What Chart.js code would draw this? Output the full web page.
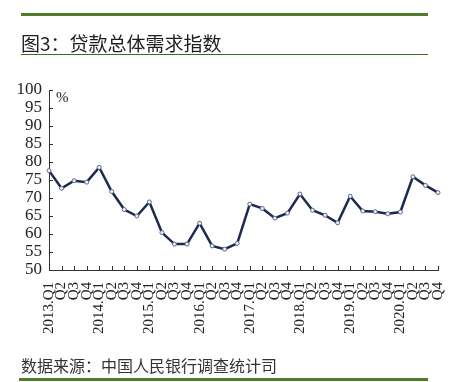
<!DOCTYPE html>
<html>
<head>
<meta charset="utf-8">
<script src="https://cdn.jsdelivr.net/npm/chart.js@4"></script>
<style>
  html, body { margin: 0; padding: 0; background: #fff; }
  #wrap { position: relative; width: 449px; height: 382px; overflow: hidden; }
  #c { position: absolute; left: 0; top: 0; }
  .bar { position: absolute; background: #4e7d2c; }
  .txt { position: absolute; font-family: "Noto Sans CJK SC", sans-serif; white-space: nowrap; }
</style>
</head>
<body>
<div id="wrap">
  <canvas id="c" width="449" height="382"></canvas>
  <div class="bar" style="left:21px; top:13px; width:407px; height:3px;"></div>
  <div class="txt" style="left:21px; top:29px; font-size:19px; line-height:28px; color:#1e1e1e;">图3：贷款总体需求指数</div>
  <div class="bar" style="left:21px; top:54px; width:407px; height:1px; background:#3f6a24;"></div>
  <div class="txt" style="left:21px; top:354px; font-size:16px; line-height:22px; color:#333;">数据来源：中国人民银行调查统计司</div>
  <div class="bar" style="left:19px; top:378px; width:409px; height:3px;"></div>
</div>
<script>
const years = ["2013", "2014", "2015", "2016", "2017", "2018", "2019", "2020"];
const quarters = ["Q1", "Q2", "Q3", "Q4"];
const categories = [];
years.forEach(y => quarters.forEach(q => categories.push(q === "Q1" ? y + ".Q1" : q)));
const loanDemandIndex = [
  77.6, 72.7, 74.8, 74.4,
  78.5, 71.8, 66.8, 65.0,
  68.9, 60.4, 57.2, 57.2,
  63.0, 56.7, 55.8, 57.4,
  68.3, 67.1, 64.4, 65.8,
  71.1, 66.6, 65.2, 63.1,
  70.5, 66.4, 66.2, 65.6,
  66.1, 75.9, 73.5, 71.5
];
const yMin = 50, yMax = 100, yStep = 5;
const unitLabel = "%";

const innerTicks = {
  id: 'innerTicks',
  afterDraw(chart) {
    const ctx = chart.ctx;
    const xs = chart.scales.x, ys = chart.scales.y;
    const area = chart.chartArea;
    ctx.save();
    ctx.strokeStyle = '#333';
    ctx.lineWidth = 1;
    ctx.beginPath();
    for (let i = 0; i < categories.length; i++) {
      const px = Math.round(xs.getPixelForTick(i)) + 0.5;
      ctx.moveTo(px, area.bottom);
      ctx.lineTo(px, area.bottom - 4);
    }
    for (let v = yMin + yStep; v <= yMax; v += yStep) {
      const py = Math.round(ys.getPixelForValue(v)) + 0.5;
      ctx.moveTo(area.left, py);
      ctx.lineTo(area.left + 4, py);
    }
    ctx.stroke();
    ctx.fillStyle = '#222';
    ctx.font = '15px "Liberation Serif", serif';
    ctx.textAlign = 'left';
    ctx.textBaseline = 'middle';
    ctx.fillText(unitLabel, area.left + 7, area.top + 8);
    ctx.restore();
  }
};

new Chart(document.getElementById('c'), {
  type: 'line',
  data: {
    labels: categories,
    datasets: [{
      data: loanDemandIndex,
      borderColor: '#1b2a4e',
      borderWidth: 2.5,
      pointRadius: 2,
      pointBorderWidth: 1,
      pointBorderColor: '#5b6a88',
      pointBackgroundColor: '#eef1f6',
      tension: 0,
      fill: false
    }]
  },
  options: {
    responsive: false,
    animation: false,
    devicePixelRatio: 1,
    layout: { padding: { left: 0, right: 11, top: 90, bottom: 37 } },
    plugins: { legend: { display: false }, tooltip: { enabled: false }, title: { display: false } },
    scales: {
      x: {
        offset: false,
        grid: { display: false, drawTicks: false },
        border: { display: true, color: '#333', width: 1 },
        ticks: {
          autoSkip: false,
          maxRotation: 90,
          minRotation: 90,
          padding: 12,
          color: '#222',
          font: { family: '"Liberation Serif", serif', size: 15 }
        },
        afterFit(scale) { scale.height = 75; scale.paddingLeft = 0; scale.paddingRight = 0; }
      },
      y: {
        min: yMin,
        max: yMax,
        grid: { display: false, drawTicks: false },
        border: { display: true, color: '#333', width: 1 },
        ticks: {
          stepSize: yStep,
          autoSkip: false,
          padding: 7,
          color: '#222',
          font: { family: '"Liberation Serif", serif', size: 17 }
        },
        afterFit(scale) { scale.width = 49; scale.paddingTop = 0; scale.paddingBottom = 0; }
      }
    }
  },
  plugins: [innerTicks]
});
</script>
</body>
</html>
